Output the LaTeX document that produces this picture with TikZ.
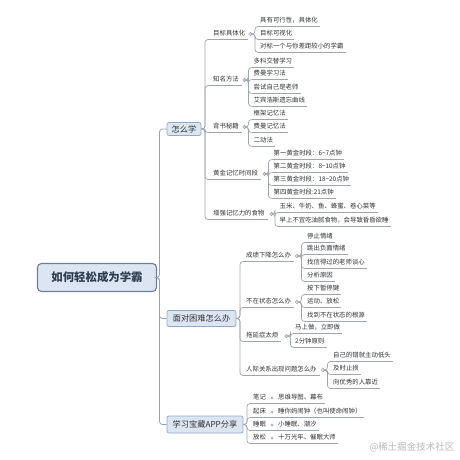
\documentclass[tikz,border=0pt]{standalone}
\usepackage{fontspec}
\setmainfont{Noto Sans CJK SC}
\definecolor{ln}{HTML}{A0A6AE}
\definecolor{mln}{HTML}{8FA3BC}
\definecolor{bfill}{HTML}{DCE6F2}
\definecolor{bdraw}{HTML}{8FA9C8}
\definecolor{rdraw}{HTML}{6F8096}
\definecolor{tx}{HTML}{333333}
\definecolor{rtx}{HTML}{2E3D50}
\tikzset{
 leaf/.style={anchor=west, inner xsep=2pt, inner ysep=2.2pt, text height=5pt, text depth=1.2pt, font=\fontsize{6.4}{7.5}\selectfont, text=tx},
 sub/.style={leaf, inner xsep=3pt},
 ul/.style={draw=ln, line width=0.6pt},
 conn/.style={draw=ln, line width=0.7pt, rounded corners=3pt},
 mconn/.style={draw=mln, line width=0.8pt, rounded corners=3pt},
 knob/.style={circle, draw=ln, fill=white, inner sep=0pt, minimum size=3.4pt, line width=0.5pt},
 mainbox/.style={draw=bdraw, fill=bfill, rounded corners=2pt, font=\fontsize{8.2}{9}\selectfont, text=tx, inner sep=0pt, line width=0.7pt},
}
\begin{document}
\begin{tikzpicture}[x=1pt,y=-1pt]
\useasboundingbox (0,0) rectangle (460,460);
\fill[white] (0,0) rectangle (460,460);

% root and main topics
\node[draw=rdraw, fill=bfill, rounded corners=4pt, line width=1.1pt, minimum width=119pt, minimum height=28pt, font=\fontsize{11.4}{13}\selectfont\bfseries, text=rtx] (root) at (97,277.5) {如何轻松成为学霸};
\node[mainbox, minimum width=34pt, minimum height=13pt] (m1) at (184,129) {怎么学};
\node[mainbox, minimum width=69pt, minimum height=16pt] (m2) at (201.5,318.5) {面对困难怎么办};
\node[mainbox, minimum width=76pt, minimum height=17pt] (m3) at (205,424.5) {学习宝藏APP分享};
\coordinate (rj) at (159.5,277.5);
\foreach \m in {m1,m2,m3} \draw[mconn] (root.east) -- (rj) |- (\m.west);

% ---------- 怎么学 ----------
\node[sub] (a1) at (210,34) {目标具体化};
\node[sub] (a2) at (210,80) {知名方法};
\node[sub] (a3) at (210,127) {背书秘籍};
\node[sub] (a4) at (210,174) {黄金记忆时间段};
\node[sub] (a5) at (210,214) {增强记忆力的食物};
\coordinate (j1) at (205,129);
\foreach \s in {a1,a2,a3,a4,a5}{
 \draw[conn] (m1.east) -- (j1) |- (\s.south west);
 \draw[ul] (\s.south west) -- (\s.south east);
}

\node[knob] (k1) at (250.5,34) {};
\foreach \n/\y/\t in {b11/21/{具有可行性，具体化}, b12/34/{目标可视化}, b13/47/{对标一个与你差距较小的学霸}}{
 \node[leaf] (\n) at (258,\y) {\t};
 \draw[conn] (k1.east) -- (255,34) |- (\n.south west);
 \draw[ul] (\n.south west) -- (\n.south east);
}
\node[knob] (k2) at (244.5,80) {};
\foreach \n/\y/\t in {b21/62/{多科交替学习}, b22/74/{费曼学习法}, b23/88/{尝试自己是老师}, b24/101/{艾宾浩斯遗忘曲线}}{
 \node[leaf] (\n) at (251.5,\y) {\t};
 \draw[conn] (k2.east) -- (248.5,80) |- (\n.south west);
 \draw[ul] (\n.south west) -- (\n.south east);
}
\node[knob] (k3) at (244.5,127) {};
\foreach \n/\y/\t in {b31/114/{框架记忆法}, b32/127/{费曼记忆法}, b33/141/{二动法}}{
 \node[leaf] (\n) at (251.5,\y) {\t};
 \draw[conn] (k3.east) -- (248.5,127) |- (\n.south west);
 \draw[ul] (\n.south west) -- (\n.south east);
}
\node[knob] (k4) at (264.5,174) {};
\foreach \n/\y/\t in {b41/154/{第一黄金时段：6\textasciitilde7点钟}, b42/167/{第二黄金时段：8\textasciitilde10点钟}, b43/180/{第三黄金时段：18\textasciitilde20点钟}, b44/193/{第四黄金时段:21点钟}}{
 \node[leaf] (\n) at (271.5,\y) {\t};
 \draw[conn] (k4.east) -- (268.5,174) |- (\n.south west);
 \draw[ul] (\n.south west) -- (\n.south east);
}
\node[knob] (k5) at (271.5,214) {};
\foreach \n/\y/\t in {b51/207/{玉米、牛奶、鱼、蜂蜜、卷心菜等}, b52/221/{早上不宜吃油腻食物，会导致昏昏欲睡}}{
 \node[leaf] (\n) at (277.5,\y) {\t};
 \draw[conn] (k5.east) -- (275,214) |- (\n.south west);
 \draw[ul] (\n.south west) -- (\n.south east);
}

% ---------- 面对困难怎么办 ----------
\node[sub] (c1) at (243,256) {成绩下降怎么办};
\node[sub] (c2) at (243,302) {不在状态怎么办};
\node[sub] (c3) at (243,336) {拖延症太烦};
\node[sub] (c4) at (243,370) {人际关系出现问题怎么办};
\coordinate (j2) at (240,318.5);
\foreach \s in {c1,c2,c3,c4}{
 \draw[conn] (m2.east) -- (j2) |- (\s.south west);
 \draw[ul] (\s.south west) -- (\s.south east);
}
\node[knob] (q1) at (297,256) {};
\foreach \n/\y/\t in {d11/237/{停止情绪}, d12/249/{跳出负面情绪}, d13/263/{找信得过的老师谈心}, d14/276/{分析原因}}{
 \node[leaf] (\n) at (305,\y) {\t};
 \draw[conn] (q1.east) -- (301.5,256) |- (\n.south west);
 \draw[ul] (\n.south west) -- (\n.south east);
}
\node[knob] (q2) at (297,302) {};
\foreach \n/\y/\t in {d21/289/{按下暂停键}, d22/302/{运动、放松}, d23/316/{找到不在状态的根源}}{
 \node[leaf] (\n) at (305,\y) {\t};
 \draw[conn] (q2.east) -- (301.5,302) |- (\n.south west);
 \draw[ul] (\n.south west) -- (\n.south east);
}
\node[knob] (q3) at (286.5,336) {};
\foreach \n/\y/\t in {d31/328/{马上做，立即做}, d32/342/{2分钟原则}}{
 \node[leaf] (\n) at (293,\y) {\t};
 \draw[conn] (q3.east) -- (290.5,336) |- (\n.south west);
 \draw[ul] (\n.south west) -- (\n.south east);
}
\node[knob] (q4) at (323,370) {};
\foreach \n/\y/\t in {d41/356/{自己的错就主动低头}, d42/369/{及时止损}, d43/383/{向优秀的人靠近}}{
 \node[leaf] (\n) at (331,\y) {\t};
 \draw[conn] (q4.east) -- (327.5,370) |- (\n.south west);
 \draw[ul] (\n.south west) -- (\n.south east);
}

% ---------- 学习宝藏APP分享 ----------
\coordinate (j3) at (247,424.5);
\foreach \n/\y/\l/\t in {e1/398/{笔记}/{思维导图、幕布}, e2/412/{起床}/{睡你妈闹钟（也叫使命闹钟）}, e3/425/{睡眠}/{小睡眠、潮汐}, e4/438/{放松}/{十万光年、催眠大师}}{
 \node[sub] (\n l) at (250,\y) {\l};
 \fill[ln!80] (272,\y) circle (1.5pt);
 \node[leaf] (\n t) at (276,\y) {\t};
 \draw[conn] (m3.east) -- (j3) |- (\n l.south west);
 \draw[ul] (\n l.south west) -- (\n t.south east);
}

% watermark
\node[text=gray!55, font=\fontsize{9.5}{11}\selectfont] (wm) at (412,447) {@稀土掘金技术社区};
\end{tikzpicture}
\end{document}
